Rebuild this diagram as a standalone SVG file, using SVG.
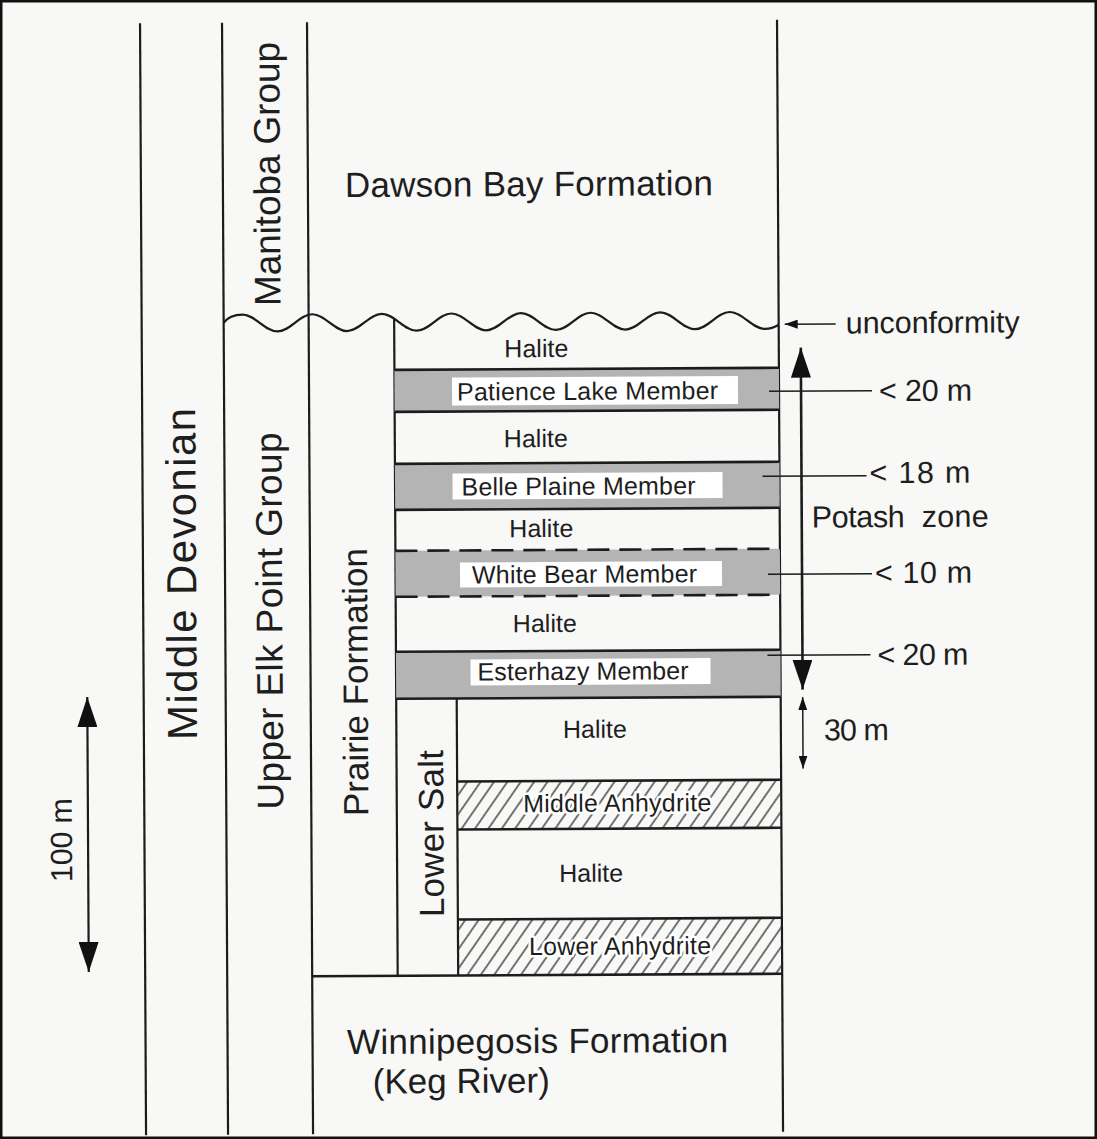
<svg xmlns="http://www.w3.org/2000/svg" width="1097" height="1139" viewBox="0 0 1097 1139">
<defs>
<style>
.ln{stroke:#1c1c1c;stroke-width:2.2;fill:none}
.thin{stroke:#1c1c1c;stroke-width:1.5;fill:none}
.bl{stroke:#1c1c1c;stroke-width:2.6;fill:none}
.dash{stroke:#1c1c1c;stroke-width:2.6;stroke-dasharray:22 10;fill:none}
.gray{fill:#b4b4b4}
.box{fill:#ffffff}
.hat{fill:url(#hatch)}
text{font-family:"Liberation Sans",Arial,Helvetica,sans-serif;fill:#1e1e1e}
.big{font-size:35px}
.med{font-size:25px}
.ann{font-size:30.5px}
.halo{stroke:#ffffff;stroke-width:5px;paint-order:stroke;stroke-linejoin:round}
</style>
<pattern id="hatch" patternUnits="userSpaceOnUse" width="11" height="11" patternTransform="rotate(35)">
<line x1="5" y1="-1" x2="5" y2="12" stroke="#2a2a2a" stroke-width="1.3"/>
</pattern>
<marker id="ahBig" markerUnits="userSpaceOnUse" viewBox="0 0 30 20" markerWidth="30" markerHeight="20" refX="30" refY="10" orient="auto-start-reverse"><path d="M0,0 L30,10 L0,20 z" fill="#111"/></marker>
<marker id="ahSmall" markerUnits="userSpaceOnUse" viewBox="0 0 13 9" markerWidth="13" markerHeight="9" refX="13" refY="4.5" orient="auto-start-reverse"><path d="M0,0 L13,4.5 L0,9 z" fill="#111"/></marker>
</defs>
<rect x="0" y="0" width="1097" height="1139" fill="#f8f8f7"/>
<g transform="rotate(-0.31 548 570)">
  <g id="columns">
    <line class="ln" x1="143" y1="21" x2="143" y2="1133"/>
    <line class="ln" x1="225" y1="21" x2="225" y2="1133"/>
    <line class="ln" x1="310" y1="21" x2="310" y2="1133"/>
    <line class="ln" x1="780" y1="21" x2="780" y2="1133"/>
    <line class="ln" x1="395.5" y1="318" x2="395.5" y2="975"/>
    <line class="ln" x1="456" y1="698" x2="456" y2="975"/>
  </g>
  <g id="unconformity">
    <path class="ln" d="M225,321 C229,315.5 236,313 244,313 C256.7,313 266.1,330 278.8,330 S300.9,313 313.6,313 S335.7,330 348.4,330 S370.5,313 383.2,313 S405.3,330 418,330 S440.1,313 452.8,313 S474.9,330 487.6,330 S509.7,313 522.4,313 S544.5,330 557.2,330 S579.3,313 592,313 S614.1,330 626.8,330 S648.9,313 661.6,313 S683.7,330 696.4,330 S718.5,313 731.2,313 S753.3,330 766,330 C771,330 776,328.5 780,326"/>
  </g>
  <g id="halite-top"><text class="med" x="537.5" y="357" text-anchor="middle" textLength="64">Halite</text></g>
  <g id="patience-lake">
    <rect class="gray" x="395.5" y="369" width="384.5" height="42"/>
    <line class="bl" x1="395.5" y1="369" x2="780" y2="369"/>
    <line class="bl" x1="395.5" y1="411" x2="780" y2="411"/>
    <rect class="box" x="453" y="377" width="286" height="28"/>
    <text class="med" x="458" y="400" textLength="261">Patience Lake Member</text>
  </g>
  <g id="halite-2"><text class="med" x="536.5" y="447" text-anchor="middle" textLength="64">Halite</text></g>
  <g id="belle-plaine">
    <rect class="gray" x="395.5" y="463" width="384.5" height="46"/>
    <line class="bl" x1="395.5" y1="463" x2="780" y2="463"/>
    <line class="bl" x1="395.5" y1="509" x2="780" y2="509"/>
    <rect class="box" x="453" y="473" width="270" height="26"/>
    <text class="med" x="462" y="495" textLength="234">Belle Plaine Member</text>
  </g>
  <g id="halite-3"><text class="med" x="541.5" y="537" text-anchor="middle" textLength="64">Halite</text></g>
  <g id="white-bear">
    <rect class="gray" x="395.5" y="550" width="384.5" height="46"/>
    <line class="dash" x1="395.5" y1="550" x2="780" y2="550"/>
    <line class="dash" x1="395.5" y1="596" x2="780" y2="596"/>
    <rect class="box" x="460" y="562" width="262" height="25"/>
    <text class="med" x="472" y="583" textLength="225">White Bear Member</text>
  </g>
  <g id="halite-4"><text class="med" x="544.5" y="632" text-anchor="middle" textLength="64">Halite</text></g>
  <g id="esterhazy">
    <rect class="gray" x="395.5" y="651" width="384.5" height="47"/>
    <line class="bl" x1="395.5" y1="651" x2="780" y2="651"/>
    <line class="bl" x1="395.5" y1="698" x2="780" y2="698"/>
    <rect class="box" x="470" y="659" width="240" height="26"/>
    <text class="med" x="477" y="680" textLength="211">Esterhazy Member</text>
  </g>
  <g id="halite-5"><text class="med" x="594" y="738" text-anchor="middle" textLength="64">Halite</text></g>
  <g id="middle-anhydrite">
    <rect class="hat" x="456" y="781" width="324" height="48"/>
    <line class="bl" x1="456" y1="781" x2="780" y2="781"/>
    <line class="bl" x1="456" y1="829" x2="780" y2="829"/>
    <text class="med halo" x="522" y="812" textLength="188">Middle Anhydrite</text>
  </g>
  <g id="halite-6"><text class="med" x="589.5" y="882" text-anchor="middle" textLength="64">Halite</text></g>
  <g id="lower-anhydrite">
    <rect class="hat" x="456" y="919" width="324" height="56"/>
    <line class="bl" x1="456" y1="919" x2="780" y2="919"/>
    <text class="med halo" x="527" y="955" textLength="182">Lower Anhydrite</text>
  </g>
  <line class="bl" x1="310" y1="975" x2="780" y2="975"/>
  <g id="lower-salt"><text class="big" transform="translate(442,833) rotate(-90)" text-anchor="middle" textLength="167">Lower Salt</text></g>
  <g id="dawson-bay"><text class="big" x="347" y="196" textLength="368">Dawson Bay Formation</text></g>
  <g id="manitoba-group"><text class="big" style="font-size:37px" transform="translate(282,172.5) rotate(-90)" text-anchor="middle" textLength="264">Manitoba Group</text></g>
  <g id="middle-devonian"><text class="big" style="font-size:42px" transform="translate(196,572) rotate(-90)" text-anchor="middle" textLength="332">Middle Devonian</text></g>
  <g id="upper-elk-point"><text class="big" style="font-size:37px" transform="translate(282,619.6) rotate(-90)" text-anchor="middle" textLength="377">Upper Elk Point Group</text></g>
  <g id="prairie-formation"><text class="big" transform="translate(367,681) rotate(-90)" text-anchor="middle" textLength="268">Prairie Formation</text></g>
  <g id="winnipegosis">
    <text class="big" x="344.5" y="1053" textLength="381">Winnipegosis Formation</text>
    <text class="big" x="370" y="1092.5" textLength="177">(Keg River)</text>
  </g>
  <g id="connectors">
    <line class="thin" x1="837" y1="325.5" x2="786" y2="325.5" marker-end="url(#ahSmall)"/>
    <line class="bl" x1="802" y1="349" x2="802" y2="691" marker-start="url(#ahBig)" marker-end="url(#ahBig)"/>
    <line class="thin" x1="802" y1="698.5" x2="802" y2="770" marker-start="url(#ahSmall)" marker-end="url(#ahSmall)"/>
    <line class="ln" x1="86.6" y1="694.5" x2="86.6" y2="969.5" marker-start="url(#ahBig)" marker-end="url(#ahBig)"/>
    <line class="thin" x1="770" y1="392.5" x2="873" y2="392.5"/>
    <line class="thin" x1="763" y1="477.5" x2="867" y2="477.5"/>
    <line class="thin" x1="768" y1="575.5" x2="872" y2="575.5"/>
    <line class="thin" x1="767" y1="656.5" x2="870" y2="656.5"/>
  </g>
  <g id="annotations">
    <text class="ann" x="847" y="335" textLength="174">unconformity</text>
    <text class="ann" x="880" y="403" textLength="93">&lt; 20 m</text>
    <text class="ann" x="870" y="485" textLength="101">&lt; 18 m</text>
    <text class="ann" x="812" y="529" textLength="93">Potash</text>
    <text class="ann" x="922" y="529" textLength="67">zone</text>
    <text class="ann" x="875" y="585" textLength="97">&lt; 10 m</text>
    <text class="ann" x="877" y="667" textLength="91">&lt; 20 m</text>
    <text class="ann" x="823" y="742" textLength="65">30 m</text>
    <text class="ann" transform="translate(70.5,837.5) rotate(-90)" text-anchor="middle" textLength="84">100 m</text>
  </g>
</g>
<rect x="1.25" y="1.25" width="1094.5" height="1136.5" fill="none" stroke="#111" stroke-width="2.5"/>
</svg>
